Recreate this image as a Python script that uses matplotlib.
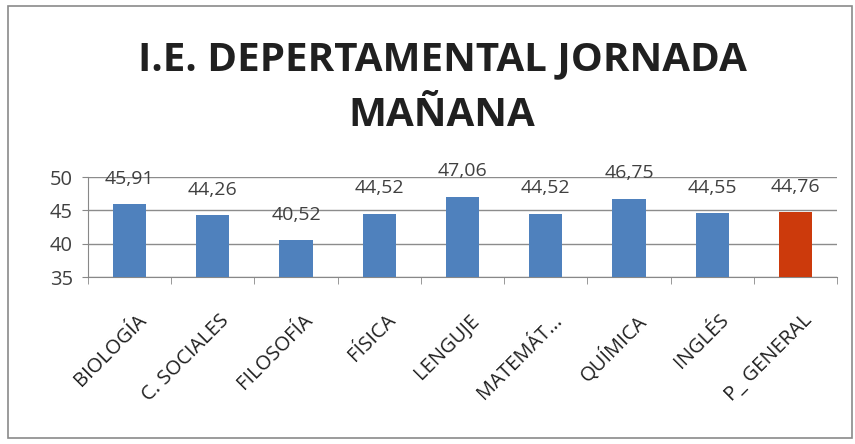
import matplotlib.pyplot as plt
from matplotlib.patches import Rectangle
import numpy as np

categories = ['BIOLOGÍA', 'C. SOCIALES', 'FILOSOFÍA', 'FÍSICA', 'LENGUJE',
              'MATEMÁT...', 'QUÍMICA', 'INGLÉS', 'P_ GENERAL']
values = [45.91, 44.26, 40.52, 44.52, 47.06, 44.52, 46.75, 44.55, 44.76]
labels = ['45,91', '44,26', '40,52', '44,52', '47,06', '44,52', '46,75', '44,55', '44,76']
colors = ['#4F81BD'] * 8 + ['#CC3A0C']

plt.rcParams['font.family'] = ['Open Sans', 'DejaVu Sans']

fig = plt.figure(figsize=(8.55, 4.44), dpi=100)
fig.patches.append(Rectangle((8 / 855, 6 / 444), 844 / 855, 432 / 444,
                             transform=fig.transFigure, fill=False,
                             edgecolor='#8a8a8a', linewidth=1.2))

ax = fig.add_axes([88 / 855, 167 / 444, 749 / 855, 100 / 444])

x = np.arange(len(categories))
ax.bar(x, [v - 35 for v in values], bottom=35, width=0.4, color=colors, zorder=3)

for xi, v, lab in zip(x, values, labels):
    y = min(v + 3.8, 51.0)
    ax.text(xi, y, lab, ha='center', va='center', fontsize=14,
            color='#404040', clip_on=False)

ax.set_ylim(35, 50)
ax.set_xlim(-0.5, len(categories) - 0.5)
ax.set_yticks([35, 40, 45, 50])
ax.tick_params(axis='y', labelsize=14.5, labelcolor='#404040', length=4,
               color='#888888', pad=7)
ax.grid(axis='y', color='#8c8c8c', linewidth=1, zorder=0)

ax.set_xticks(x + 0.08)
ax.set_xticklabels(categories, rotation=45, ha='right', rotation_mode='anchor',
                   fontsize=14.5, color='#202020')
ax.tick_params(axis='x', length=0, pad=24)
ax.set_xticks(np.arange(-0.5, len(categories)), minor=True)
ax.tick_params(axis='x', which='minor', length=5, color='#888888')

for s in ['top', 'right']:
    ax.spines[s].set_visible(False)
for s in ['left', 'bottom']:
    ax.spines[s].set_color('#888888')

fig.text(442 / 855, 1 - 60 / 444, 'I.E. DEPERTAMENTAL JORNADA', ha='center',
         va='center', fontsize=29, fontweight='bold', color='#202020')
fig.text(442 / 855, 1 - 116 / 444, 'MAÑANA', ha='center',
         va='center', fontsize=29, fontweight='bold', color='#202020')

fig.savefig('out.png', dpi=100)
